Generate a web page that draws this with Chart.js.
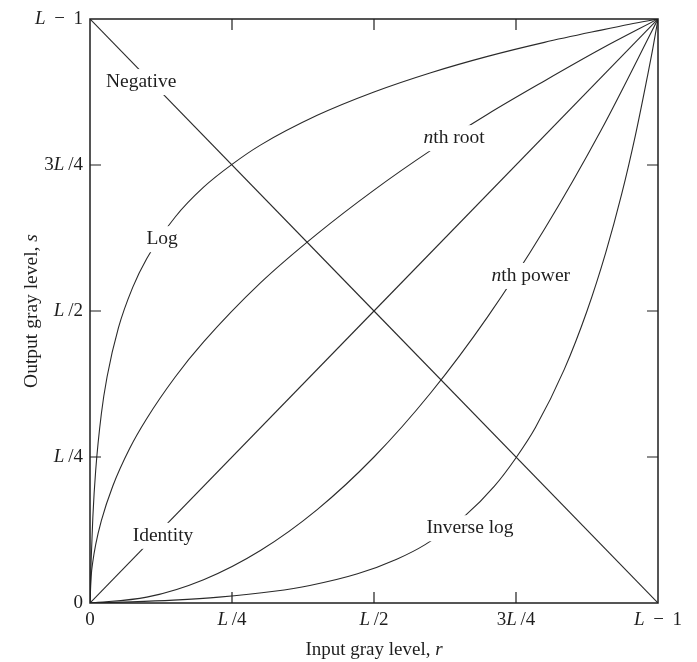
<!DOCTYPE html>
<html lang="en">
<head>
<meta charset="UTF-8" />
<title>Gray-level transformations</title>
<script src="https://cdn.jsdelivr.net/npm/chart.js"></script>
<style>
  html, body { margin: 0; padding: 0; background: #fff; }
  #wrap { width: 697px; height: 662px; }
</style>
</head>
<body>
<div id="wrap"><canvas id="curves"></canvas></div>
<script>
// gray levels are normalised: 0 .. L-1  ->  0 .. 1
const tickValues = [0, 0.25, 0.5, 0.75, 1];
const tickLabels = ["0", "L\u2009/4", "L\u2009/2", "3L\u2009/4", "L \u2009−\u2009 1"];

const negativeX = [0, 1];
const negativeY = [1, 0];

const identityX = [0, 1];
const identityY = [0, 1];

const logX = [0, 0.002, 0.005, 0.01, 0.02, 0.03, 0.05, 0.075, 0.1, 0.15, 0.2, 0.25, 0.3, 0.4, 0.5, 0.6, 0.7, 0.8, 0.9, 0.95, 1];
const logY = [0, 0.073, 0.147, 0.227, 0.324, 0.387, 0.471, 0.54, 0.59, 0.661, 0.712, 0.751, 0.784, 0.835, 0.875, 0.908, 0.936, 0.96, 0.981, 0.991, 1];

const invLogX = [0, 0.073, 0.147, 0.227, 0.324, 0.387, 0.471, 0.54, 0.59, 0.661, 0.712, 0.751, 0.784, 0.835, 0.875, 0.908, 0.936, 0.96, 0.981, 0.991, 1];
const invLogY = [0, 0.002, 0.005, 0.01, 0.02, 0.03, 0.05, 0.075, 0.1, 0.15, 0.2, 0.25, 0.3, 0.4, 0.5, 0.6, 0.7, 0.8, 0.9, 0.95, 1];

const rootX = [0, 0.002, 0.005, 0.01, 0.02, 0.04, 0.07, 0.1, 0.15, 0.2, 0.3, 0.4, 0.5, 0.6, 0.7, 0.8, 0.9, 1];
const rootY = [0, 0.045, 0.071, 0.1, 0.141, 0.2, 0.265, 0.316, 0.387, 0.447, 0.548, 0.632, 0.707, 0.775, 0.837, 0.894, 0.949, 1];

const powerX = [0, 0.1, 0.2, 0.3, 0.4, 0.5, 0.6, 0.7, 0.8, 0.9, 1];
const powerY = [0, 0.01, 0.04, 0.09, 0.16, 0.25, 0.36, 0.49, 0.64, 0.81, 1];

// curve names, written on the plot where the line is broken
const curveNotes = [
  { parts: [["Negative", false]], x: 0.09, y: 0.892 },
  { parts: [["Log", false]], x: 0.127, y: 0.623 },
  { parts: [["n", true], ["th root", false]], x: 0.641, y: 0.796 },
  { parts: [["n", true], ["th power", false]], x: 0.776, y: 0.56 },
  { parts: [["Identity", false]], x: 0.1285, y: 0.115 },
  { parts: [["Inverse log", false]], x: 0.669, y: 0.128 }
];

const SERIF = "'Liberation Serif', 'DejaVu Serif', serif";
const INK = "#1e1e1e";

function toPoints(xs, ys) {
  return xs.map((x, i) => ({ x: x, y: ys[i] }));
}

function font(size, italic) {
  return (italic ? "italic " : "") + size + "px " + SERIF;
}

// draw text runs where some pieces are italic; align: left / center / right
function drawRich(ctx, parts, x, y, size, align) {
  let total = 0;
  const widths = parts.map(([t, it]) => {
    ctx.font = font(size, it);
    const w = ctx.measureText(t).width;
    total += w;
    return w;
  });
  let cx = align === "center" ? x - total / 2 : align === "right" ? x - total : x;
  parts.forEach(([t, it], i) => {
    ctx.font = font(size, it);
    ctx.fillText(t, cx, y);
    cx += widths[i];
  });
  return total;
}

function tickParts(label) {
  return label.split(/(L)/).filter(s => s !== "").map(s => [s, s === "L"]);
}

const framePlugin = {
  id: "frame",
  afterDatasetsDraw(chart) {
    const ctx = chart.ctx;
    const a = chart.chartArea;
    const xs = chart.scales.x;
    const ys = chart.scales.y;
    ctx.save();
    ctx.textBaseline = "middle";
    ctx.textAlign = "left";

    // curve labels with a white gap behind them
    curveNotes.forEach(n => {
      const px = xs.getPixelForValue(n.x);
      const py = ys.getPixelForValue(n.y);
      let w = 0;
      n.parts.forEach(([t, it]) => { ctx.font = font(19.5, it); w += ctx.measureText(t).width; });
      ctx.fillStyle = "#fff";
      ctx.fillRect(px - w / 2 - 4, py - 13, w + 8, 26);
      ctx.fillStyle = INK;
      drawRich(ctx, n.parts, px, py, 19.5, "center");
    });

    // frame
    ctx.strokeStyle = INK;
    ctx.lineWidth = 1.5;
    ctx.strokeRect(a.left, a.top, a.right - a.left, a.bottom - a.top);

    // inward tick marks on all four sides
    ctx.lineWidth = 1.2;
    ctx.beginPath();
    tickValues.forEach(v => {
      if (v === 0 || v === 1) return;
      const px = xs.getPixelForValue(v);
      const py = ys.getPixelForValue(v);
      ctx.moveTo(px, a.bottom); ctx.lineTo(px, a.bottom - 11);
      ctx.moveTo(px, a.top); ctx.lineTo(px, a.top + 11);
      ctx.moveTo(a.left, py); ctx.lineTo(a.left + 11, py);
      ctx.moveTo(a.right, py); ctx.lineTo(a.right - 11, py);
    });
    ctx.stroke();

    // tick labels
    ctx.fillStyle = INK;
    tickValues.forEach((v, i) => {
      const parts = tickParts(tickLabels[i]);
      drawRich(ctx, parts, xs.getPixelForValue(v), a.bottom + 17, 19, "center");
      drawRich(ctx, parts, a.left - 7, ys.getPixelForValue(v), 19, "right");
    });

    // axis titles
    drawRich(ctx, [["Input gray level, ", false], ["r", true]], (a.left + a.right) / 2, a.bottom + 47, 19, "center");
    ctx.translate(32, (a.top + a.bottom) / 2);
    ctx.rotate(-Math.PI / 2);
    drawRich(ctx, [["Output gray level, ", false], ["s", true]], 0, 0, 19.5, "center");
    ctx.restore();
  }
};

const lineStyle = {
  borderColor: "#2a2a2a",
  borderWidth: 1.1,
  pointRadius: 0,
  fill: false,
  cubicInterpolationMode: "monotone"
};

new Chart(document.getElementById("curves"), {
  type: "line",
  data: {
    datasets: [
      Object.assign({ label: "Negative", data: toPoints(negativeX, negativeY) }, lineStyle),
      Object.assign({ label: "Identity", data: toPoints(identityX, identityY) }, lineStyle),
      Object.assign({ label: "Log", data: toPoints(logX, logY) }, lineStyle),
      Object.assign({ label: "Inverse log", data: toPoints(invLogX, invLogY) }, lineStyle),
      Object.assign({ label: "nth root", data: toPoints(rootX, rootY) }, lineStyle),
      Object.assign({ label: "nth power", data: toPoints(powerX, powerY) }, lineStyle)
    ]
  },
  options: {
    responsive: true,
    maintainAspectRatio: false,
    animation: false,
    layout: { padding: { left: 90, right: 39, top: 19, bottom: 59 } },
    scales: {
      x: { type: "linear", min: 0, max: 1, display: false },
      y: { type: "linear", min: 0, max: 1, display: false }
    },
    plugins: {
      legend: { display: false },
      tooltip: { enabled: false }
    }
  },
  plugins: [framePlugin]
});
</script>
</body>
</html>
